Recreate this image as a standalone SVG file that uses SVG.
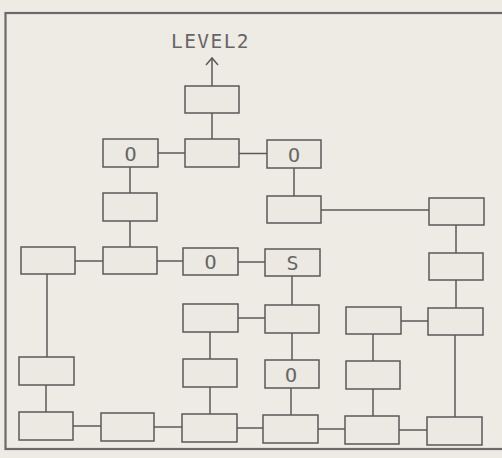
<svg xmlns="http://www.w3.org/2000/svg" width="502" height="458" viewBox="0 0 502 458">
<style>
.bg{fill:#eeeae4}
.frame{fill:none;stroke:#6a6a6a;stroke-width:2.2}
.box{fill:#ece8e2;stroke:#5a5a5a;stroke-width:1.5}
.ln{stroke:#5a5a5a;stroke-width:1.5;fill:none}
.t{font-family:"DejaVu Sans Mono",monospace;font-size:20px;fill:#666;text-anchor:middle}
.lbl{font-family:"DejaVu Sans Mono",monospace;font-size:19.5px;fill:#666;text-anchor:middle;letter-spacing:1.4px}
</style>
<rect class="bg" x="0" y="0" width="502" height="458"/>
<rect class="frame" x="5.5" y="13" width="510" height="436"/>
<text class="lbl" x="210.5" y="47.5">LEVEL2</text>
<g id="connectors">
<line class="ln" x1="212" y1="86" x2="212" y2="58"/>
<polyline class="ln" points="206,65 212,58 218,65"/>
<line class="ln" x1="212" y1="113" x2="212" y2="139"/>
<line class="ln" x1="158" y1="153" x2="185" y2="153"/>
<line class="ln" x1="239" y1="153.5" x2="267" y2="153.5"/>
<line class="ln" x1="130" y1="167" x2="130" y2="193"/>
<line class="ln" x1="130" y1="221" x2="130" y2="247"/>
<line class="ln" x1="294" y1="168" x2="294" y2="196"/>
<line class="ln" x1="321" y1="210" x2="429" y2="210"/>
<line class="ln" x1="456" y1="225" x2="456" y2="253"/>
<line class="ln" x1="75" y1="261" x2="103" y2="261"/>
<line class="ln" x1="157" y1="261" x2="183" y2="261"/>
<line class="ln" x1="238" y1="262" x2="265" y2="262"/>
<line class="ln" x1="47" y1="274" x2="47" y2="357"/>
<line class="ln" x1="292" y1="276" x2="292" y2="305"/>
<line class="ln" x1="238" y1="318" x2="265" y2="318"/>
<line class="ln" x1="292" y1="333" x2="292" y2="360"/>
<line class="ln" x1="401" y1="321" x2="428" y2="321"/>
<line class="ln" x1="456" y1="280" x2="456" y2="308"/>
<line class="ln" x1="455" y1="335" x2="455" y2="417"/>
<line class="ln" x1="210" y1="332" x2="210" y2="359"/>
<line class="ln" x1="210" y1="387" x2="210" y2="414"/>
<line class="ln" x1="373" y1="334" x2="373" y2="361"/>
<line class="ln" x1="373" y1="389" x2="373" y2="416"/>
<line class="ln" x1="46" y1="385" x2="46" y2="412"/>
<line class="ln" x1="291" y1="388" x2="291" y2="415"/>
<line class="ln" x1="73" y1="426" x2="101" y2="426"/>
<line class="ln" x1="154" y1="427" x2="182" y2="427"/>
<line class="ln" x1="237" y1="428" x2="263" y2="428"/>
<line class="ln" x1="318" y1="429" x2="345" y2="429"/>
<line class="ln" x1="399" y1="430" x2="427" y2="430"/>
</g>
<g id="n1"><rect class="box" x="185" y="86" width="54" height="27"/></g>
<g id="n2"><rect class="box" x="103" y="139" width="55" height="28"/><text class="t" x="130.5" y="160.5">O</text></g>
<g id="n3"><rect class="box" x="185" y="139" width="54" height="28"/></g>
<g id="n4"><rect class="box" x="267" y="140" width="54" height="28"/><text class="t" x="294" y="161.5">O</text></g>
<g id="n5"><rect class="box" x="103" y="193" width="54" height="28"/></g>
<g id="n6"><rect class="box" x="267" y="196" width="54" height="27"/></g>
<g id="n7"><rect class="box" x="429" y="198" width="55" height="27"/></g>
<g id="n8"><rect class="box" x="21" y="247" width="54" height="27"/></g>
<g id="n9"><rect class="box" x="103" y="247" width="54" height="27"/></g>
<g id="n10"><rect class="box" x="183" y="248" width="55" height="27"/><text class="t" x="210.5" y="269">O</text></g>
<g id="n11"><rect class="box" x="265" y="249" width="55" height="27"/><text class="t" x="292.5" y="270">S</text></g>
<g id="n12"><rect class="box" x="429" y="253" width="54" height="27"/></g>
<g id="n13"><rect class="box" x="183" y="304" width="55" height="28"/></g>
<g id="n14"><rect class="box" x="265" y="305" width="54" height="28"/></g>
<g id="n15"><rect class="box" x="346" y="307" width="55" height="27"/></g>
<g id="n16"><rect class="box" x="428" y="308" width="55" height="27"/></g>
<g id="n17"><rect class="box" x="19" y="357" width="55" height="28"/></g>
<g id="n18"><rect class="box" x="183" y="359" width="54" height="28"/></g>
<g id="n19"><rect class="box" x="265" y="360" width="54" height="28"/><text class="t" x="291" y="381.5">O</text></g>
<g id="n20"><rect class="box" x="346" y="361" width="54" height="28"/></g>
<g id="n21"><rect class="box" x="19" y="412" width="54" height="28"/></g>
<g id="n22"><rect class="box" x="101" y="413" width="53" height="28"/></g>
<g id="n23"><rect class="box" x="182" y="414" width="55" height="28"/></g>
<g id="n24"><rect class="box" x="263" y="415" width="55" height="28"/></g>
<g id="n25"><rect class="box" x="345" y="416" width="54" height="28"/></g>
<g id="n26"><rect class="box" x="427" y="417" width="55" height="28"/></g>
</svg>
